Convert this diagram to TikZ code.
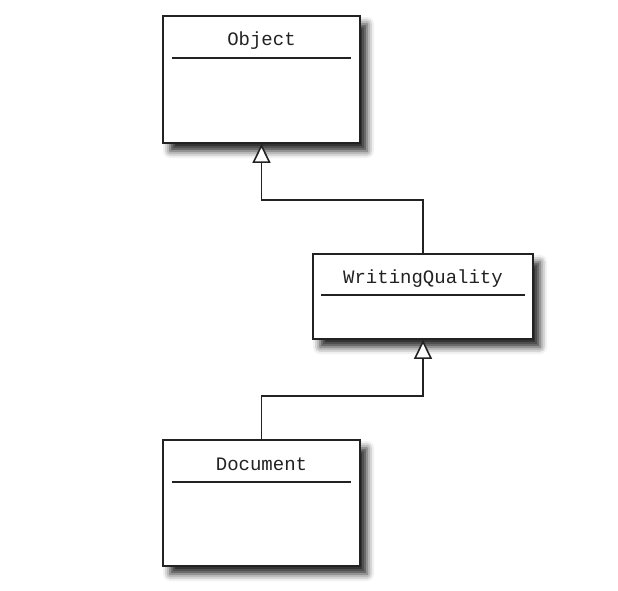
\documentclass[tikz,border=0pt]{standalone}
\usepackage{fontspec}
\setmonofont{Liberation Mono}
\usepackage{tikz}
\usetikzlibrary{
  arrows.meta,
  positioning,
  calc,
  shadows.blur
}
\definecolor{darkgrey}{HTML}{222222}
\tikzset{
  classbox/.style={
    rectangle, draw=darkgrey, fill=white, line width=1.8pt,
    blur shadow={shadow xshift=7pt, shadow yshift=-8pt,
                 shadow blur radius=7pt, shadow opacity=85}
  },
  classname/.style={
    font=\fontsize{19}{22}\selectfont\ttfamily, text=darkgrey, inner sep=0pt
  },
  sepline/.style={
    line width=1.6pt, color=darkgrey
  },
  inherit/.style={
    -{Triangle[open, length=19pt, width=18pt, fill=white, line width=1.6pt]},
    line width=1.6pt, color=darkgrey
  },
}

\begin{document}
\begin{tikzpicture}[x=1pt, y=1pt]

  \useasboundingbox (0,0) rectangle (618,-591);

  %% ── Classes ───────────────────────────────────────────────────────────────
  \node[classbox, minimum width=197pt, minimum height=127pt] (objcls) at (261.5,-79.5) {};
  \node[classbox, minimum width=220pt, minimum height=85pt]  (wqcls)  at (423,-296.5)  {};
  \node[classbox, minimum width=197pt, minimum height=126pt] (doccls) at (261.5,-503)  {};

  %% ── Names and separators ──────────────────────────────────────────────────
  \node[classname] (objname) at ($(objcls.north)+(0,-25)$) {Object};
  \draw[sepline] ($(objcls.north west)+(10,-43)$) -- ($(objcls.north east)+(-10,-43)$);

  \node[classname] (wqname) at ($(wqcls.north)+(0,-25)$) {WritingQuality};
  \draw[sepline] ($(wqcls.north west)+(9,-42)$) -- ($(wqcls.north east)+(-9,-42)$);

  \node[classname] (docname) at ($(doccls.north)+(0,-25)$) {Document};
  \draw[sepline] ($(doccls.north west)+(10,-43)$) -- ($(doccls.north east)+(-10,-43)$);

  %% ── Generalisation ────────────────────────────────────────────────────────
  \draw[inherit] (wqcls.north) -- ++(0,53) -| (objcls.south);
  \draw[inherit] (doccls.north) -- ++(0,43) -| (wqcls.south);

\end{tikzpicture}
\end{document}
